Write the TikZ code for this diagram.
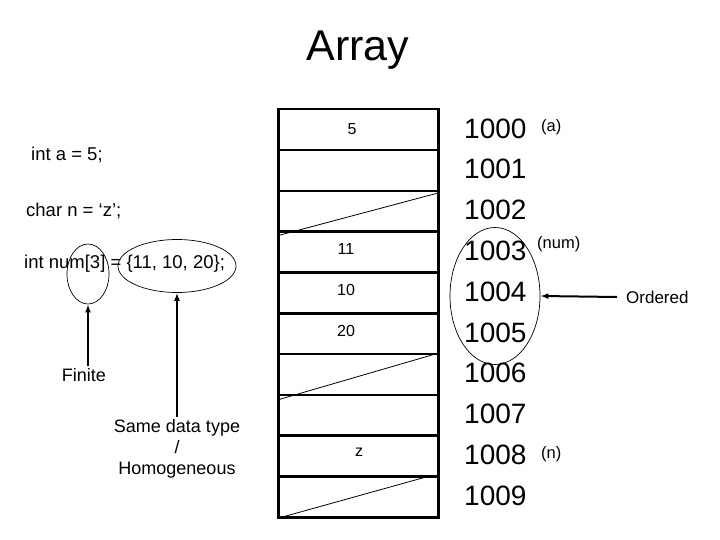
\documentclass[tikz,border=0pt]{standalone}
\usepackage{fontspec}
\setmainfont{Liberation Sans}
\usetikzlibrary{arrows.meta,shapes.geometric}
\begin{document}
\begin{tikzpicture}[x=1pt,y=-1pt,
  cell/.style={draw, line width=2.5pt, minimum width=160pt, minimum height=40.8pt, inner sep=0pt, anchor=north west},
  val/.style={inner sep=0pt, font=\fontsize{16}{19}\selectfont},
  addr/.style={inner sep=0pt, anchor=west, font=\fontsize{28}{30}\selectfont},
  tag/.style={inner sep=0pt, anchor=west, font=\fontsize{16.5}{19}\selectfont},
  code/.style={inner sep=0pt, anchor=west, font=\fontsize{18.5}{21}\selectfont},
  lbl/.style={inner sep=2pt, align=center, font=\fontsize{18}{21}\selectfont},
  oval/.style={draw, ellipse, line width=0.7pt, inner sep=0pt},
  arr/.style={line width=2pt, -{Latex[length=8pt,width=6pt]}},
  diag/.style={line width=0.8pt}]
\useasboundingbox (0,0) rectangle (720,540);
% title
\node[font=\fontsize{43}{46}\selectfont] (title) at (358,50) {Array};
% memory cells
\foreach \i in {0,...,9} {
  \node[cell] (c\i) at (277,{108+\i*40.8}) {};
}
\draw[diag] ([yshift=-3pt]c2.south west) -- ([yshift=-3pt]c2.north east);
\draw[diag] ([yshift=-4pt]c6.south west) -- (c6.north east);
\draw[diag] (c9.south west) -- ([xshift=-7pt]c9.north east);
% values
\node[val] (v0) at (352,129) {5};
\node[val] (v3) at (346,249) {11};
\node[val] (v4) at (346,290) {10};
\node[val] (v5) at (346,331) {20};
\node[val] (v8) at (359,452) {z};
% addresses
\foreach \i in {0,...,9} {
  \pgfmathtruncatemacro{\ad}{1000+\i}
  \node[addr] (a\i) at (464,{128.5+\i*40.8}) {\ad};
}
\node[tag] (ta) at (541,127) {(a)};
\node[tag] (tnum) at (537,244) {(num)};
\node[tag] (tn) at (541,454) {(n)};
% ordered ellipse
\node[oval, minimum width=90pt, minimum height=137pt] (ord) at (495,296) {};
\node[tag, font=\fontsize{17}{20}\selectfont] (ordered) at (626,297) {Ordered};
\draw[arr] ([xshift=-9pt]ordered.west) -- (ord.east);
% code
\node[code] (ca) at (31,155) {int a = 5;};
\node[code] (cn) at (26,211) {char n = ‘z’;};
\node[code] (cnum) at (24,264) {int num[3] = \{11, 10, 20\};};
\node[oval, minimum width=42pt, minimum height=60pt] (e1) at (88,274) {};
\node[oval, minimum width=118pt, minimum height=53pt] (e2) at (177,266) {};
% labels
\node[lbl] (finite) at (84,375) {Finite};
\node[lbl] (same) at (177,449) {Same data type\\/\\Homogeneous};
\draw[arr] (finite.north -| e1.south) -- (e1.south);
\draw[arr] (same.north -| e2.south) -- (e2.south);
\end{tikzpicture}
\end{document}
